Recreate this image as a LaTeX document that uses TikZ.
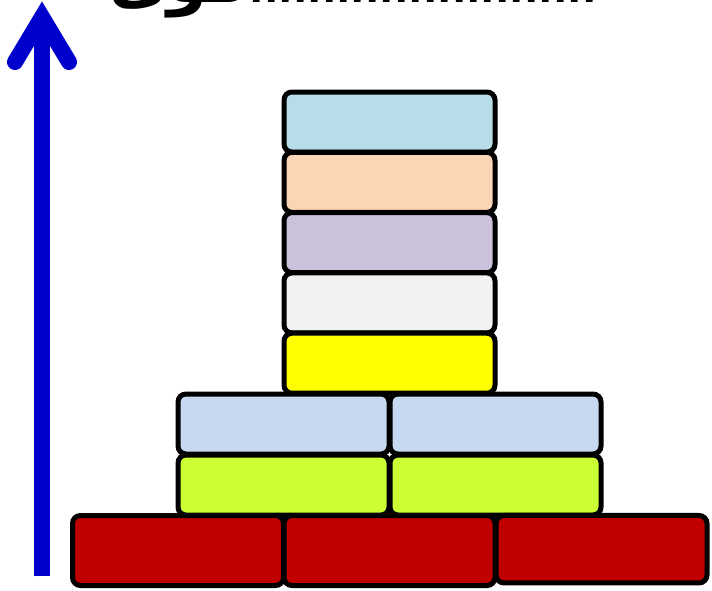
\documentclass[tikz,border=0pt]{standalone}
\usepackage{fontspec}
\newfontfamily\arabicfont[Script=Arabic]{DejaVu Sans}
\TeXXeTstate=1
\usepackage{xcolor}
\definecolor{topblue}{HTML}{B7DEE8}
\definecolor{peach}{HTML}{FCD5B5}
\definecolor{lavender}{HTML}{CCC1DA}
\definecolor{palegray}{HTML}{F2F2F2}
\definecolor{brightyellow}{HTML}{FFFF00}
\definecolor{steelblue}{HTML}{C6D9F1}
\definecolor{lime}{HTML}{CCFF33}
\definecolor{brickred}{HTML}{C00000}
\definecolor{arrowblue}{HTML}{0000CC}

\begin{document}
\begin{tikzpicture}[x=1pt, y=-1pt,
        brick/.style = {draw, line width=5pt, rounded corners=8pt, inner sep=0pt,
                        minimum width=211pt, minimum height=60pt},
        redbrick/.style = {brick, fill=brickred, minimum height=70pt}]
        \useasboundingbox (0,0) rectangle (712,590);

        % arrow
        \coordinate (foot) at (42,576);
        \coordinate (apex) at (42,17);
        \draw[arrowblue, line width=16pt] (foot) -- (apex);
        \draw[arrowblue, line width=16pt, line cap=round, line join=miter]
            (15,62) -- (apex) -- (69,62);
        \node[anchor=base west, inner sep=0pt] (label) at (109,2.5)
            {\fontsize{64}{64}\arabicfont\bfseries\beginR{\fontsize{38}{38}\selectfont ........................}قوى\endR};

        % stack
        \node[brick, fill=topblue]      (s5) at (389.5,122) {};
        \node[brick, fill=peach]        (s4) at (389.5,182.3) {};
        \node[brick, fill=lavender]     (s3) at (389.5,242.6) {};
        \node[brick, fill=palegray]     (s2) at (389.5,302.9) {};
        \node[brick, fill=brightyellow] (s1) at (389.5,363.2) {};

        % two wide rows
        \node[brick, fill=steelblue] (bl) at (283.5,424) {};
        \node[brick, fill=steelblue] (br) at (495.5,424) {};
        \node[brick, fill=lime]      (ll) at (283.5,485) {};
        \node[brick, fill=lime]      (lr) at (495.5,485) {};

        % base
        \node[redbrick] (r1) at (178,550.5) {};
        \node[redbrick] (r2) at (389.5,550.5) {};
        \node[redbrick, minimum height=67.5pt] (r3) at (601.5,549.2) {};
    \end{tikzpicture}
\end{document}
